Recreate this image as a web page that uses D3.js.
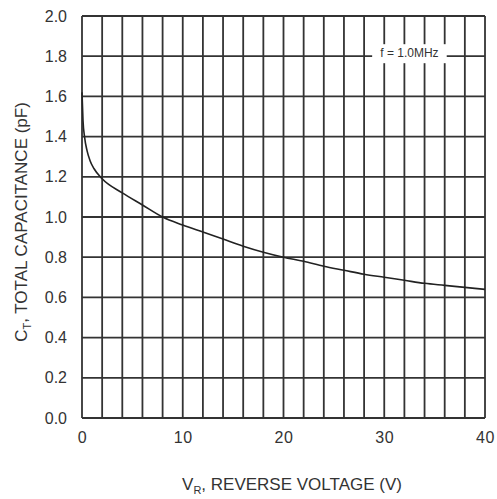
<!DOCTYPE html>
<html>
<head>
<meta charset="utf-8">
<script src="https://cdn.jsdelivr.net/npm/d3@7"></script>
<style>
	body { margin: 0; background: #fff; }
	text { font-family: "Liberation Sans", Arial, sans-serif; fill: #333; }
</style>
</head>
<body>
<script>
// reverse voltage (V) and total capacitance (pF)
const voltage = [0, 0.1, 0.25, 0.5, 0.8, 1.2, 2, 4, 6, 8, 10, 12, 14, 16, 18, 20, 22, 24, 26, 28, 30, 32, 34, 36, 38, 40];
const capacitance = [1.62, 1.48, 1.40, 1.33, 1.28, 1.24, 1.19, 1.12, 1.06, 1.00, 0.96, 0.925, 0.89, 0.855, 0.825, 0.80, 0.78, 0.755, 0.735, 0.715, 0.70, 0.685, 0.67, 0.66, 0.65, 0.64];
const xTicks = [0, 10, 20, 30, 40];
const yTicks = [0, 0.2, 0.4, 0.6, 0.8, 1.0, 1.2, 1.4, 1.6, 1.8, 2.0];
const xGrid = d3.range(0, 41, 2);

const margin = { top: 16, right: 12, bottom: 81, left: 82 };
const width = 497 - margin.left - margin.right;
const height = 499 - margin.top - margin.bottom;

const svg = d3.select('body')
	.append('svg')
	.attr('width', 497)
	.attr('height', 499);

const g = svg.append('g')
	.attr('transform', `translate(${margin.left}, ${margin.top})`);

const xScale = d3.scaleLinear().domain([0, 40]).range([0, width]);
const yScale = d3.scaleLinear().domain([0, 2]).range([height, 0]);

// grid
g.selectAll('.vgrid')
	.data(xGrid)
	.enter().append('line')
	.attr('x1', d => xScale(d))
	.attr('x2', d => xScale(d))
	.attr('y1', 0)
	.attr('y2', height)
	.attr('stroke', '#333')
	.attr('stroke-width', 1.8);

g.selectAll('.hgrid')
	.data(yTicks)
	.enter().append('line')
	.attr('x1', 0)
	.attr('x2', width)
	.attr('y1', d => yScale(d))
	.attr('y2', d => yScale(d))
	.attr('stroke', '#333')
	.attr('stroke-width', 1.8);

// axes (labels only)
const xAxis = d3.axisBottom(xScale).tickValues(xTicks).tickSize(0).tickPadding(14).tickFormat(d3.format('d'));
const yAxis = d3.axisLeft(yScale).tickValues(yTicks).tickSize(0).tickPadding(15).tickFormat(d3.format('.1f'));

g.append('g')
	.attr('transform', `translate(0, ${height})`)
	.call(xAxis)
	.call(s => s.select('.domain').remove())
	.selectAll('text')
	.style('font-size', '16px')
	.style('letter-spacing', '0.5px')
	.style('font-family', '"Liberation Sans", Arial, sans-serif')
	.attr('fill', '#333');

g.append('g')
	.call(yAxis)
	.call(s => s.select('.domain').remove())
	.selectAll('text')
	.style('font-size', '16px')
	.style('font-family', '"Liberation Sans", Arial, sans-serif')
	.attr('fill', '#333');

// curve
const line = d3.line()
	.x(d => xScale(d[0]))
	.y(d => yScale(d[1]))
	.curve(d3.curveMonotoneX);

g.append('path')
	.datum(voltage.map((v, i) => [v, capacitance[i]]))
	.attr('d', line)
	.attr('fill', 'none')
	.attr('stroke', '#222')
	.attr('stroke-width', 1.6);

// legend
g.append('rect')
	.attr('x', xScale(28.8))
	.attr('y', yScale(1.8) - 12)
	.attr('width', xScale(7.4) - xScale(0))
	.attr('height', 19)
	.attr('fill', '#fff');

g.append('text')
	.attr('x', xScale(32.5))
	.attr('y', yScale(1.8) + 1)
	.attr('text-anchor', 'middle')
	.style('font-size', '12px')
	.text('f = 1.0MHz');

// axis titles
const xTitle = svg.append('text')
	.attr('x', 292)
	.attr('y', 490)
	.attr('text-anchor', 'middle')
	.style('font-size', '17px');
xTitle.append('tspan').text('V');
xTitle.append('tspan').attr('dy', 4).style('font-size', '11px').text('R');
xTitle.append('tspan').attr('dy', -4).text(', REVERSE VOLTAGE (V)');

const yTitle = svg.append('text')
	.attr('transform', `translate(27, 222) rotate(-90)`)
	.attr('text-anchor', 'middle')
	.style('font-size', '17px');
yTitle.append('tspan').text('C');
yTitle.append('tspan').attr('dy', 4).style('font-size', '11px').text('T');
yTitle.append('tspan').attr('dy', -4).text(', TOTAL CAPACITANCE (pF)');
</script>
</body>
</html>
